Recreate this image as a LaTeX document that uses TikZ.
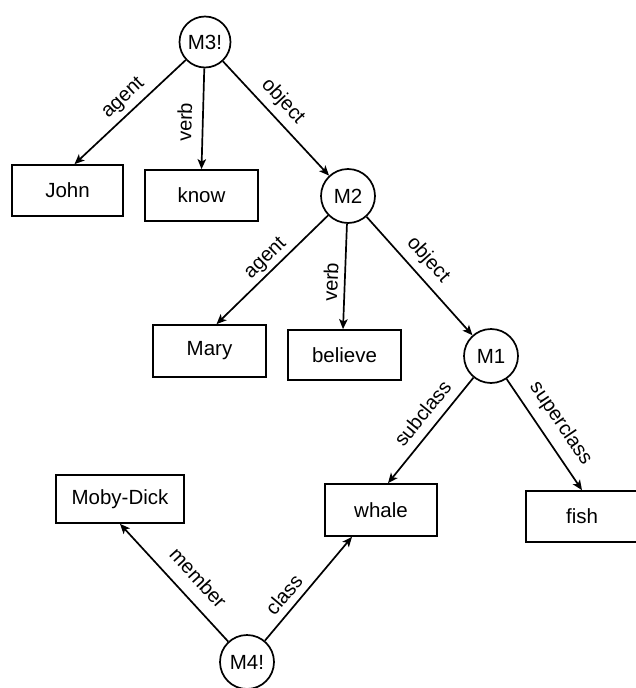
\documentclass[tikz,border=0pt]{standalone}
\usepackage{fontspec}
\setmainfont{Liberation Sans}
\usetikzlibrary{arrows.meta}
\begin{document}
\begin{tikzpicture}[x=1pt,y=-1pt,
  every node/.style={font=\fontsize{20.5}{24}\selectfont},
  concept/.style={draw, line width=1.7pt, circle, minimum size=54pt, inner sep=0pt},
  entity/.style={draw, line width=1.7pt, rectangle, minimum height=51pt, inner sep=0pt},
  arc/.style={line width=1.7pt, -{Stealth[length=10pt,width=8.5pt,inset=2.5pt]}},
  rel/.style={font=\fontsize{20}{22}\selectfont, inner sep=3pt, sloped}]
\useasboundingbox (0,0) rectangle (635,688);

% propositional nodes
\node[concept, minimum size=51pt] (M3) at (205,42) {M3!};
\node[concept] (M2) at (348,196) {M2};
\node[concept] (M1) at (491,356) {M1};
\node[concept] (M4) at (247,662) {M4!};

% base nodes
\node[entity, minimum width=111pt] (John)    at (67.5,190.5) {John};
\node[entity, minimum width=113pt] (know)    at (201.5,195.5) {know};
\node[entity, minimum width=113pt, minimum height=52pt] (Mary) at (209.5,351) {Mary};
\node[entity, minimum width=113pt, minimum height=50pt] (believe) at (344.5,355) {believe};
\node[entity, minimum width=128pt, minimum height=48pt] (moby) at (120,499) {Moby-Dick};
\node[entity, minimum width=112pt, minimum height=52pt] (whale) at (381,510) {whale};
\node[entity, minimum width=112pt] (fish) at (582,516.5) {fish};

% arcs of M3!
\draw[arc] (M3) -- node[rel, pos=0.47, above=2pt] {agent} ([xshift=7pt]John.north);
\draw[arc] (M3) -- node[rel, pos=0.54, above=7pt] {verb} (know.north);
\draw[arc] (M3) -- node[rel, pos=0.45, above=3.5pt] {object} (M2);

% arcs of M2
\draw[arc] (M2) -- node[rel, pos=0.48, above=0pt] {agent} ([xshift=7pt]Mary.north);
\draw[arc] (M2) -- node[rel, pos=0.56, above=3pt] {verb} ([xshift=-1.5pt]believe.north);
\draw[arc] (M2) -- node[rel, pos=0.46, above=4pt] {object} (M1);

% arcs of M1
\draw[arc] (M1) -- node[rel, pos=0.44, above=6pt] {subclass} ([xshift=7pt]whale.north);
\draw[arc] (M1) -- node[rel, pos=0.5, above=6.5pt] {superclass} (fish.north);

% arcs of M4!
\draw[arc] (M4) -- node[rel, pos=0.42, above=10pt] {member} (moby.south);
\draw[arc] (M4) -- node[rel, pos=0.35, above=4pt] {class} ([xshift=-29pt]whale.south);
\end{tikzpicture}
\end{document}
